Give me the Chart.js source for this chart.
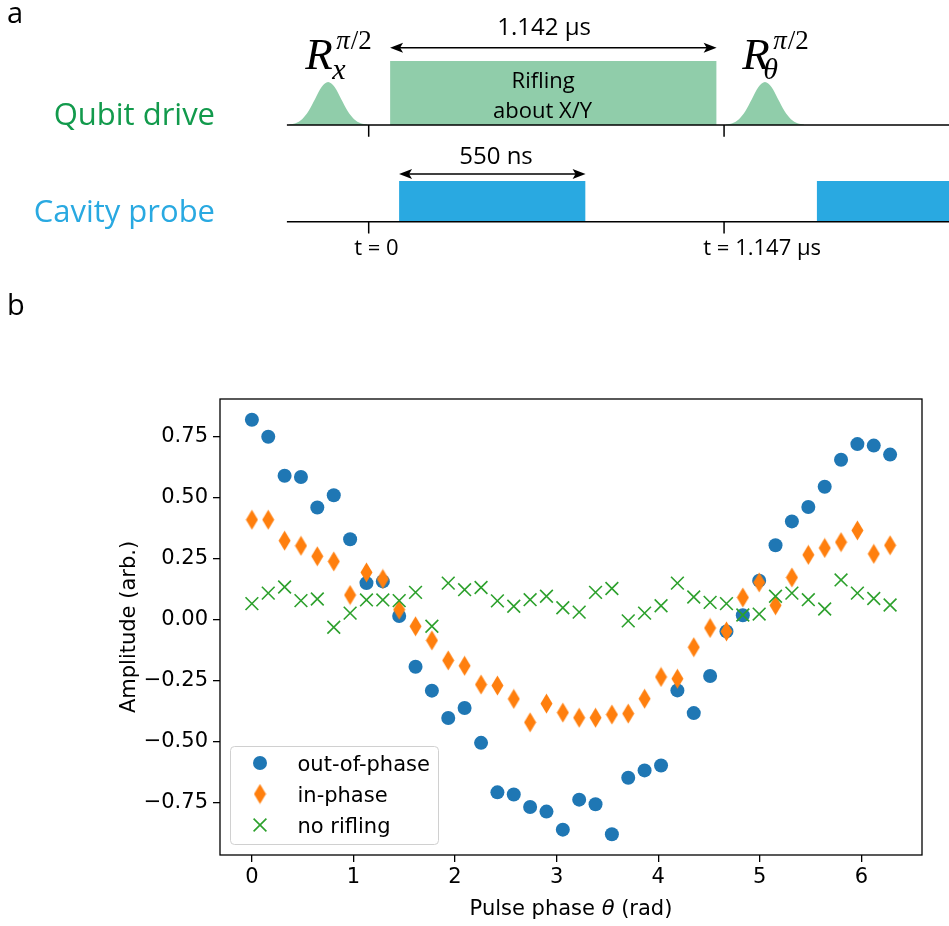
<!DOCTYPE html>
<html>
<head>
<meta charset="utf-8">
<script src="https://cdn.jsdelivr.net/npm/chart.js@4.4.1/dist/chart.umd.min.js"></script>
<style>
  html, body { margin: 0; padding: 0; background: #fff; }
  #wrap { position: relative; width: 949px; height: 926px; }
  #pulse { position: absolute; left: 0; top: 0; }
  #scatter { position: absolute; left: 0; top: 290px; }
</style>
</head>
<body>
<div id="wrap">
  <canvas id="pulse" width="949" height="290"></canvas>
  <canvas id="scatter" width="949" height="636"></canvas>
</div>
<script>
// --- panel b: measured amplitudes vs. pulse phase ---
const phaseRad = [0.000, 0.161, 0.322, 0.483, 0.644, 0.806, 0.967, 1.128, 1.289, 1.450,
  1.611, 1.772, 1.933, 2.094, 2.256, 2.417, 2.578, 2.739, 2.900, 3.061,
  3.222, 3.383, 3.544, 3.705, 3.866, 4.028, 4.189, 4.350, 4.511, 4.672,
  4.833, 4.994, 5.155, 5.316, 5.478, 5.639, 5.800, 5.961, 6.122, 6.283];
const outOfPhase = [0.82, 0.75, 0.59, 0.585, 0.46, 0.51, 0.33, 0.15, 0.157, 0.015,
  -0.193, -0.291, -0.403, -0.362, -0.505, -0.708, -0.717, -0.768, -0.787, -0.861,
  -0.738, -0.757, -0.88, -0.648, -0.618, -0.598, -0.29, -0.383, -0.231, -0.048,
  0.018, 0.16, 0.305, 0.403, 0.462, 0.545, 0.656, 0.72, 0.714, 0.677];
const inPhase = [0.41, 0.41, 0.324, 0.303, 0.26, 0.239, 0.101, 0.194, 0.167, 0.041,
  -0.027, -0.085, -0.167, -0.189, -0.266, -0.27, -0.325, -0.421, -0.344, -0.381,
  -0.402, -0.402, -0.389, -0.385, -0.324, -0.235, -0.242, -0.113, -0.034, -0.048,
  0.091, 0.153, 0.059, 0.173, 0.266, 0.294, 0.318, 0.366, 0.27, 0.305];
const noRifling = [0.066, 0.109, 0.134, 0.078, 0.085, -0.031, 0.027, 0.081, 0.081, 0.078,
  0.112, -0.027, 0.15, 0.123, 0.132, 0.077, 0.055, 0.082, 0.096, 0.049,
  0.031, 0.112, 0.128, -0.005, 0.027, 0.057, 0.15, 0.093, 0.071, 0.066,
  0.019, 0.023, 0.096, 0.109, 0.082, 0.044, 0.163, 0.109, 0.087, 0.06];
const seriesNames = ['out-of-phase', 'in-phase', 'no rifling'];
const xTickValues = [0, 1, 2, 3, 4, 5, 6];
const yTickValues = [-0.75, -0.5, -0.25, 0, 0.25, 0.5, 0.75];

// --- panel a: pulse sequence (time in µs, lanes: cavity = 0, qubit = 1) ---
const timelineUs = [-0.264, 1.95];
const qubitLane = 1;
const cavityLane = 0;
const riflingPulseUs = [0.069, 1.123];
const riflingHeight = 0.662;
const piHalfCentersUs = [-0.131, 1.279];
const gaussOffsetUs = [-0.126, -0.105, -0.084, -0.063, -0.042, -0.021, 0, 0.021, 0.042, 0.063, 0.084, 0.105, 0.126];
const gaussEnvelope = [0.011, 0.044, 0.135, 0.325, 0.607, 0.882, 1, 0.882, 0.607, 0.325, 0.135, 0.044, 0.011];
const piHalfHeight = 0.445;
const probePulsesUs = [[0.098, 0.700], [1.446, 2.2]];
const probeHeight = 0.421;
const markerTimesUs = [0, 1.147];

const BLUE = '#1f77b4';
const ORANGE = '#ff7f0e';
const GREEN = '#2ca02c';
const QUBIT_FILL = '#90cdaa';
const QUBIT_TEXT = '#129a4c';
const CAVITY_FILL = '#29a9e1';

Chart.defaults.font.family = 'DejaVu Sans';
Chart.defaults.color = '#000';

// thin diamond marker (matplotlib "d")
const diamondMark = document.createElement('canvas');
diamondMark.width = 13;
diamondMark.height = 21;
(function () {
  const c = diamondMark.getContext('2d');
  c.fillStyle = ORANGE;
  c.beginPath();
  c.moveTo(6.5, 0.5);
  c.lineTo(12.5, 10.5);
  c.lineTo(6.5, 20.5);
  c.lineTo(0.5, 10.5);
  c.closePath();
  c.fill();
})();

// ---------- panel a ----------
function rectPath(start, end, base, height) {
  return [{ x: start, y: base }, { x: start, y: base + height }, { x: end, y: base + height }, { x: end, y: base }];
}
function gaussPath(center, base) {
  return gaussOffsetUs.map((dt, i) => ({ x: center + dt, y: base + piHalfHeight * gaussEnvelope[i] }));
}
function markerPath() {
  const pts = [];
  [qubitLane, cavityLane].forEach(function (lane) {
    markerTimesUs.forEach(function (t) {
      pts.push({ x: t, y: lane }, { x: t, y: lane - 0.121 }, { x: t, y: null });
    });
  });
  return pts;
}

function drawSpanArrow(ctx, x1, x2, y) {
  const head = 13, half = 5;
  ctx.strokeStyle = '#000';
  ctx.fillStyle = '#000';
  ctx.lineWidth = 1.5;
  ctx.beginPath();
  ctx.moveTo(x1 + 8, y);
  ctx.lineTo(x2 - 8, y);
  ctx.stroke();
  [[x1, 1], [x2, -1]].forEach(function (h) {
    const tip = h[0], d = h[1];
    ctx.beginPath();
    ctx.moveTo(tip, y);
    ctx.lineTo(tip + d * head, y - half);
    ctx.lineTo(tip + d * (head - 3), y);
    ctx.lineTo(tip + d * head, y + half);
    ctx.closePath();
    ctx.fill();
  });
}

// R_sub^{pi/2} in a math-like serif
function drawRotation(ctx, x, y, sub) {
  ctx.fillStyle = '#000';
  ctx.textAlign = 'left';
  ctx.textBaseline = 'alphabetic';
  ctx.font = 'italic 45px "Liberation Serif"';
  ctx.fillText('R', x, y);
  ctx.font = 'italic 30px "Liberation Serif"';
  ctx.fillText(sub, x + (sub === 'x' ? 27 : 21), y + 10);
  ctx.font = 'italic 27px "Liberation Serif"';
  ctx.fillText('π', x + 31, y - 20);
  const w = ctx.measureText('π').width;
  ctx.font = '27px "Liberation Serif"';
  ctx.fillText('/2', x + 31 + w + 1, y - 20);
}

const pulseAnnotations = {
  id: 'pulseAnnotations',
  afterDatasetsDraw(chart) {
    const ctx = chart.ctx;
    const px = t => chart.scales.x.getPixelForValue(t);
    const py = v => chart.scales.y.getPixelForValue(v);
    ctx.save();

    // panel letter
    ctx.fillStyle = '#000';
    ctx.font = '29px "Open Sans"';
    ctx.textAlign = 'left';
    ctx.textBaseline = 'alphabetic';
    ctx.fillText('a', 7, 23);

    // lane names
    ctx.textAlign = 'right';
    ctx.font = '31px "Open Sans"';
    ctx.fillStyle = QUBIT_TEXT;
    ctx.fillText('Qubit drive', px(-0.496), py(qubitLane));
    ctx.fillStyle = CAVITY_FILL;
    ctx.fillText('Cavity probe', px(-0.496), py(cavityLane));

    // duration arrows
    drawSpanArrow(ctx, px(riflingPulseUs[0]), px(riflingPulseUs[1]), py(1.799));
    drawSpanArrow(ctx, px(probePulsesUs[0][0]), px(probePulsesUs[0][1]), py(0.493));

    ctx.fillStyle = '#000';
    ctx.textAlign = 'center';
    ctx.font = '24px "Open Sans"';
    ctx.fillText('1.142 μs', px(0.566), py(1.931));
    ctx.fillText('550 ns', px(0.411), py(0.597));

    ctx.font = '22px "Open Sans"';
    ctx.fillText('Rifling', px(0.563), py(1.380));
    ctx.fillText('about X/Y', px(0.561), py(1.069));

    ctx.fillText('t = 0', px(0.025), py(-0.344));
    ctx.fillText('t = 1.147 μs', px(1.270), py(-0.344));

    drawRotation(ctx, px(-0.205), py(1.58), 'x');
    drawRotation(ctx, px(1.206), py(1.58), 'θ');

    ctx.restore();
  }
};

const noFill = 'rgba(0,0,0,0)';
new Chart(document.getElementById('pulse'), {
  type: 'line',
  data: {
    datasets: [
      { data: [{ x: timelineUs[0], y: qubitLane }, { x: timelineUs[1], y: qubitLane }], borderColor: '#000', borderWidth: 1.5, fill: false },
      { data: [{ x: timelineUs[0], y: cavityLane }, { x: timelineUs[1], y: cavityLane }], borderColor: '#000', borderWidth: 1.5, fill: false },
      { data: markerPath(), borderColor: '#000', borderWidth: 1.5, fill: false, spanGaps: false },
      { data: rectPath(riflingPulseUs[0], riflingPulseUs[1], qubitLane, riflingHeight), borderColor: noFill, backgroundColor: QUBIT_FILL, fill: { value: qubitLane } },
      { data: gaussPath(piHalfCentersUs[0], qubitLane), borderColor: noFill, backgroundColor: QUBIT_FILL, fill: { value: qubitLane }, cubicInterpolationMode: 'monotone' },
      { data: gaussPath(piHalfCentersUs[1], qubitLane), borderColor: noFill, backgroundColor: QUBIT_FILL, fill: { value: qubitLane }, cubicInterpolationMode: 'monotone' },
      { data: rectPath(probePulsesUs[0][0], probePulsesUs[0][1], cavityLane, probeHeight), borderColor: noFill, backgroundColor: CAVITY_FILL, fill: { value: cavityLane } },
      { data: rectPath(probePulsesUs[1][0], probePulsesUs[1][1], cavityLane, probeHeight), borderColor: noFill, backgroundColor: CAVITY_FILL, fill: { value: cavityLane } }
    ]
  },
  options: {
    responsive: false,
    animation: false,
    layout: { padding: 0 },
    elements: { point: { radius: 0 }, line: { tension: 0 } },
    plugins: { legend: { display: false }, tooltip: { enabled: false } },
    scales: {
      x: { type: 'linear', min: -1.190, max: 1.873, display: false },
      y: { type: 'linear', min: -0.706, max: 2.293, display: false }
    }
  },
  plugins: [pulseAnnotations]
});

// ---------- panel b ----------
const frameBox = {
  id: 'frameBox',
  afterDatasetsDraw(chart) {
    const ctx = chart.ctx;
    const a = chart.chartArea;
    ctx.save();

    // legend in lower left corner
    const markers = ['circle', 'diamond', 'cross'];
    const bx = a.left + 10.5, by = a.bottom - 108.5, bw = 208, bh = 98;
    ctx.fillStyle = 'rgba(255,255,255,0.8)';
    ctx.strokeStyle = '#d0d0d0';
    ctx.lineWidth = 1;
    ctx.beginPath();
    ctx.roundRect(bx, by, bw, bh, 4);
    ctx.fill();
    ctx.stroke();
    markers.forEach(function (kind, i) {
      const cx = bx + 29.5, cy = by + 16.5 + i * 31;
      if (kind === 'circle') {
        ctx.fillStyle = BLUE;
        ctx.beginPath();
        ctx.arc(cx, cy, 7, 0, Math.PI * 2);
        ctx.fill();
      } else if (kind === 'diamond') {
        ctx.drawImage(diamondMark, cx - diamondMark.width / 2, cy - diamondMark.height / 2);
      } else {
        ctx.strokeStyle = GREEN;
        ctx.lineWidth = 1.6;
        ctx.beginPath();
        ctx.moveTo(cx - 6.4, cy - 6.4); ctx.lineTo(cx + 6.4, cy + 6.4);
        ctx.moveTo(cx + 6.4, cy - 6.4); ctx.lineTo(cx - 6.4, cy + 6.4);
        ctx.stroke();
      }
      ctx.fillStyle = '#000';
      ctx.font = '21px "DejaVu Sans"';
      ctx.textAlign = 'left';
      ctx.textBaseline = 'alphabetic';
      ctx.fillText(seriesNames[i], bx + 67, cy + 7.5);
    });

    // axes box
    ctx.strokeStyle = '#000';
    ctx.lineWidth = 1.3;
    ctx.strokeRect(a.left, a.top, a.right - a.left, a.bottom - a.top);

    // x axis title with italic theta
    const parts = [['Pulse phase ', '21px "DejaVu Sans"'], ['θ', 'oblique 21px "DejaVu Sans"'], [' (rad)', '21px "DejaVu Sans"']];
    let total = 0;
    parts.forEach(function (p) { ctx.font = p[1]; total += ctx.measureText(p[0]).width; });
    let tx = (a.left + a.right) / 2 - total / 2;
    ctx.fillStyle = '#000';
    ctx.textAlign = 'left';
    parts.forEach(function (p) {
      ctx.font = p[1];
      ctx.fillText(p[0], tx, a.bottom + 60);
      tx += ctx.measureText(p[0]).width;
    });

    // panel letter
    ctx.font = '29px "Open Sans"';
    ctx.fillText('b', 7, 25);
    ctx.restore();
  }
};

function toPoints(ys) {
  return phaseRad.map((x, i) => ({ x: x, y: ys[i] }));
}

const tickGrid = { drawOnChartArea: false, drawTicks: true, tickLength: 7, color: '#000', lineWidth: 1.3 };

new Chart(document.getElementById('scatter'), {
  type: 'scatter',
  data: {
    datasets: [
      { label: seriesNames[0], data: toPoints(outOfPhase), pointStyle: 'circle', pointRadius: 7, pointBackgroundColor: BLUE, pointBorderWidth: 0, pointBorderColor: BLUE, order: 3 },
      { label: seriesNames[1], data: toPoints(inPhase), pointStyle: diamondMark, pointRadius: 8, order: 2 },
      { label: seriesNames[2], data: toPoints(noRifling), pointStyle: 'crossRot', pointRadius: 9, pointBorderColor: GREEN, pointBorderWidth: 1.6, order: 1 }
    ]
  },
  options: {
    responsive: false,
    animation: false,
    layout: { padding: { left: 110, right: 27, top: 109, bottom: 0 } },
    plugins: { legend: { display: false }, tooltip: { enabled: false } },
    scales: {
      x: {
        type: 'linear',
        min: -0.314,
        max: 6.597,
        afterBuildTicks: s => { s.ticks = xTickValues.map(v => ({ value: v })); },
        afterFit: s => { s.height = 71; },
        ticks: { font: { size: 21 }, padding: 3, maxRotation: 0, callback: v => String(v) },
        grid: tickGrid,
        border: { display: false }
      },
      y: {
        type: 'linear',
        min: -0.965,
        max: 0.905,
        afterBuildTicks: s => { s.ticks = yTickValues.map(v => ({ value: v })); },
        afterFit: s => { s.width = 110; },
        ticks: { font: { size: 21 }, padding: 5, callback: v => v.toFixed(2).replace('-', '\u2212') },
        grid: tickGrid,
        border: { display: false },
        title: { display: true, text: 'Amplitude (arb.)', font: { size: 21 }, padding: { top: 7, bottom: 0 } }
      }
    }
  },
  plugins: [frameBox]
});
</script>
</body>
</html>
